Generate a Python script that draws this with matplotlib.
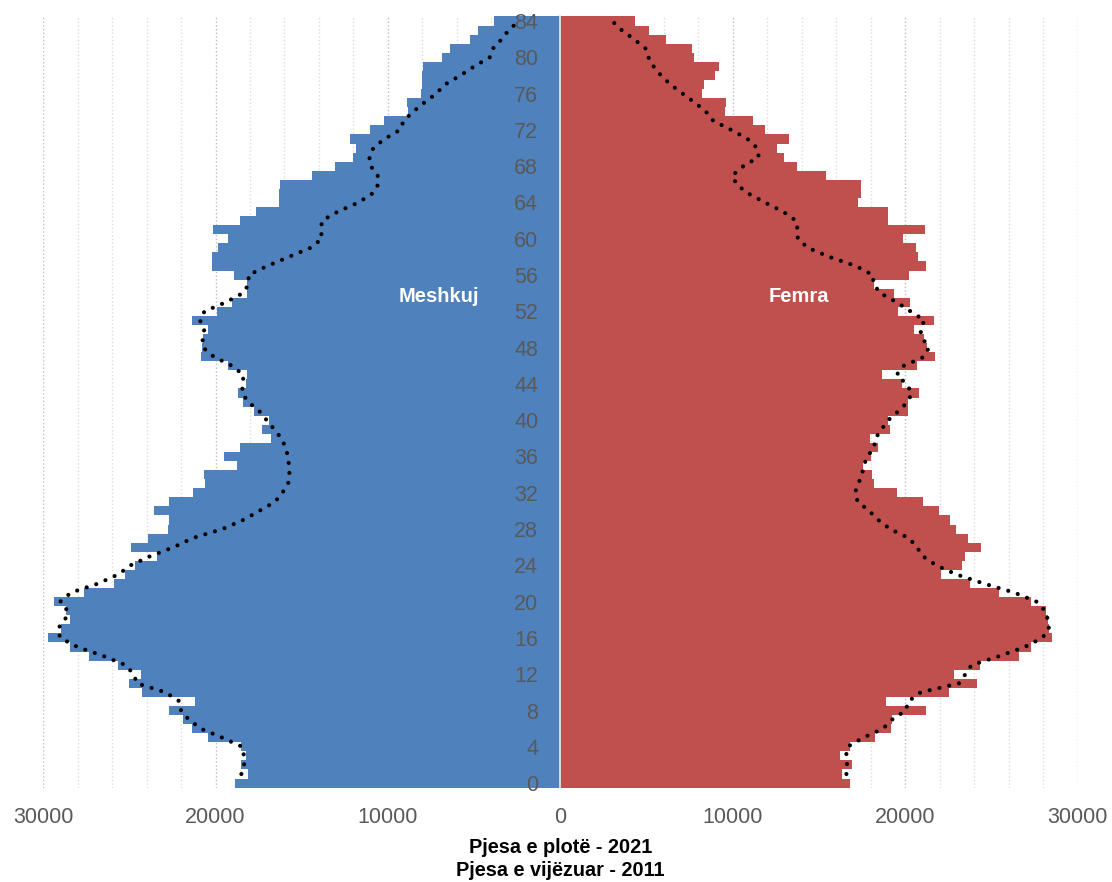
"""Population pyramid: 2021 census (bars) against 2011 (dotted line)."""

import matplotlib
matplotlib.use("Agg")
import matplotlib.pyplot as plt
import numpy as np
from matplotlib.ticker import FuncFormatter, MultipleLocator

plt.rcParams["font.family"] = ["Liberation Sans", "DejaVu Sans"]

AGES = np.arange(0, 85)

# 2021, persons by single year of age
MALE_2021 = [
    18880, 18110, 18520, 18230, 18520, 20430, 21340, 21880, 22670, 21200,
    24280, 24990, 24330, 25650, 27350, 28450, 29710, 28970, 28410, 28680,
    29340, 27640, 25900, 25240, 24680, 23370, 24890, 23890, 22750, 22710,
    23540, 22710, 21280, 20600, 20640, 18770, 19480, 18570, 16760, 17300,
    16910, 17760, 18420, 18710, 18230, 18190, 19290, 20850, 20800, 20700,
    20410, 21380, 19930, 19020, 18190, 18150, 18940, 20200, 20180, 19870,
    19250, 20140, 18590, 17630, 16330, 16330, 16250, 14380, 13050, 12040,
    11830, 12180, 11020, 10220, 8830, 8890, 8080, 8050, 8000, 7960,
    6860, 6400, 5240, 4790, 3850,
]
FEMALE_2021 = [
    16810, 16340, 16890, 16230, 16810, 18250, 19160, 19240, 21180, 18870,
    22540, 24160, 22800, 24310, 26600, 27300, 28510, 28330, 28260, 28160,
    27270, 25420, 23750, 22080, 23300, 23440, 24410, 23640, 22930, 22580,
    21940, 21030, 19490, 18190, 18040, 17560, 18000, 18430, 17940, 19100,
    18970, 20170, 20150, 20800, 19820, 18640, 20680, 21690, 21260, 21090,
    20490, 21650, 19550, 20240, 19330, 18190, 20190, 21170, 20740, 20640,
    19880, 21140, 19010, 18970, 17240, 17430, 17430, 15410, 13720, 12940,
    12530, 13270, 11870, 11170, 9520, 9600, 8200, 8320, 8980, 9190,
    7730, 7600, 6140, 5150, 4350,
]

# 2011 line, plotted one step up (positions 1..84 on the age axis)
AGES_2011 = np.arange(1, 85)
MALE_2011 = [
    18500, 18340, 18350, 18450, 19600, 20850, 21550, 22000, 22080, 22900,
    24550, 24750, 25200, 26480, 28000, 29000, 29150, 28720, 28580, 29000,
    28375, 26800, 25640, 24930, 23800, 22430, 21330, 19600, 18400, 17460,
    16550, 16120, 15790, 15710, 15740, 15800, 15940, 16180, 16600, 17030,
    17460, 18100, 18460, 18420, 18380, 19050, 20100, 20720, 20750, 20650,
    20900, 20640, 19400, 18420, 18060, 18090, 17000, 15750, 14500, 13820,
    13900, 13820, 12900, 11700, 10900, 10560, 10600, 11000, 11080, 10850,
    10200, 9300, 9090, 8550, 7900, 7200, 6700, 5800, 5000, 4100,
    3900, 3400, 3000, 2400,
]
FEMALE_2011 = [
    16580, 16620, 16560, 16650, 17550, 18700, 19230, 20020, 20160, 20880,
    23110, 23480, 23830, 25440, 26910, 27930, 28320, 28260, 28100, 27600,
    26310, 24540, 22960, 21790, 21020, 20670, 20210, 19120, 18430, 17900,
    17240, 17080, 17270, 17490, 17580, 17800, 18190, 18260, 18620, 19000,
    19600, 20120, 20380, 20050, 19500, 19900, 21100, 21360, 21000, 20850,
    21110, 20300, 19500, 18550, 18150, 18120, 17130, 15600, 14350, 13760,
    13750, 13650, 12900, 11860, 10880, 10200, 9980, 10600, 11500, 11400,
    10850, 9900, 8860, 8440, 7800, 7080, 6380, 5830, 5400, 5100,
    4920, 4260, 3550, 3000,
]

BLUE = "#4F81BD"
RED = "#C0504D"
GREY_TXT = "#595959"

fig = plt.figure(figsize=(11.12, 8.82), dpi=100)
ax = fig.add_axes([0.0387, 0.107, 0.9306, 0.8743])

ax.barh(AGES, -np.array(MALE_2021), height=1.0, color=BLUE, linewidth=0, zorder=1)
ax.barh(AGES, FEMALE_2021, height=1.0, color=RED, linewidth=0, zorder=1)

dots = dict(color="black", lw=3.0, linestyle=(0, (0.01, 2.4)),
            dash_capstyle="round", zorder=3)
ax.plot(-np.array(MALE_2011), AGES_2011, **dots)
ax.plot(FEMALE_2011, AGES_2011, **dots)

ax.set_xlim(-30000, 30000)
ax.set_ylim(-0.5, 84.5)

# vertical dotted grid every 2000, a bit darker every 10000
ax.xaxis.set_major_locator(MultipleLocator(10000))
ax.xaxis.set_minor_locator(MultipleLocator(2000))
ax.grid(True, axis="x", which="minor", color="#DCDCDC", linestyle=":", lw=1)
ax.grid(True, axis="x", which="major", color="#BDBDBD", linestyle=":", lw=1)
ax.set_axisbelow(True)
ax.xaxis.set_major_formatter(FuncFormatter(lambda v, _: f"{abs(v):.0f}"))
ax.tick_params(axis="x", which="both", length=0, pad=14,
               labelsize=15.5, labelcolor=GREY_TXT)

# age labels sit on the centre line, over the bars
for s in ("top", "right", "bottom"):
    ax.spines[s].set_visible(False)
ax.spines["left"].set_position(("data", 0))
ax.spines["left"].set_color("#E4E4E4")
ax.spines["left"].set_linewidth(1.3)
ax.spines["left"].set_zorder(4)
ax.set_yticks(np.arange(0, 85, 4))
ax.tick_params(axis="y", length=0, pad=16, labelsize=15.5, labelcolor=GREY_TXT)
ax.yaxis.set_zorder(4)

ax.text(-7050, 53.6, "Meshkuj", color="white", fontsize=14.5, fontweight="bold",
        ha="center", va="center", zorder=5)
ax.text(13830, 53.6, "Femra", color="white", fontsize=14.5, fontweight="bold",
        ha="center", va="center", zorder=5)

ax.set_xlabel("Pjesa e plotë - 2021\nPjesa e vijëzuar - 2011",
              fontsize=14.3, fontweight="bold", color="black",
              labelpad=7, linespacing=1.25)

fig.savefig("out.png", dpi=100)
